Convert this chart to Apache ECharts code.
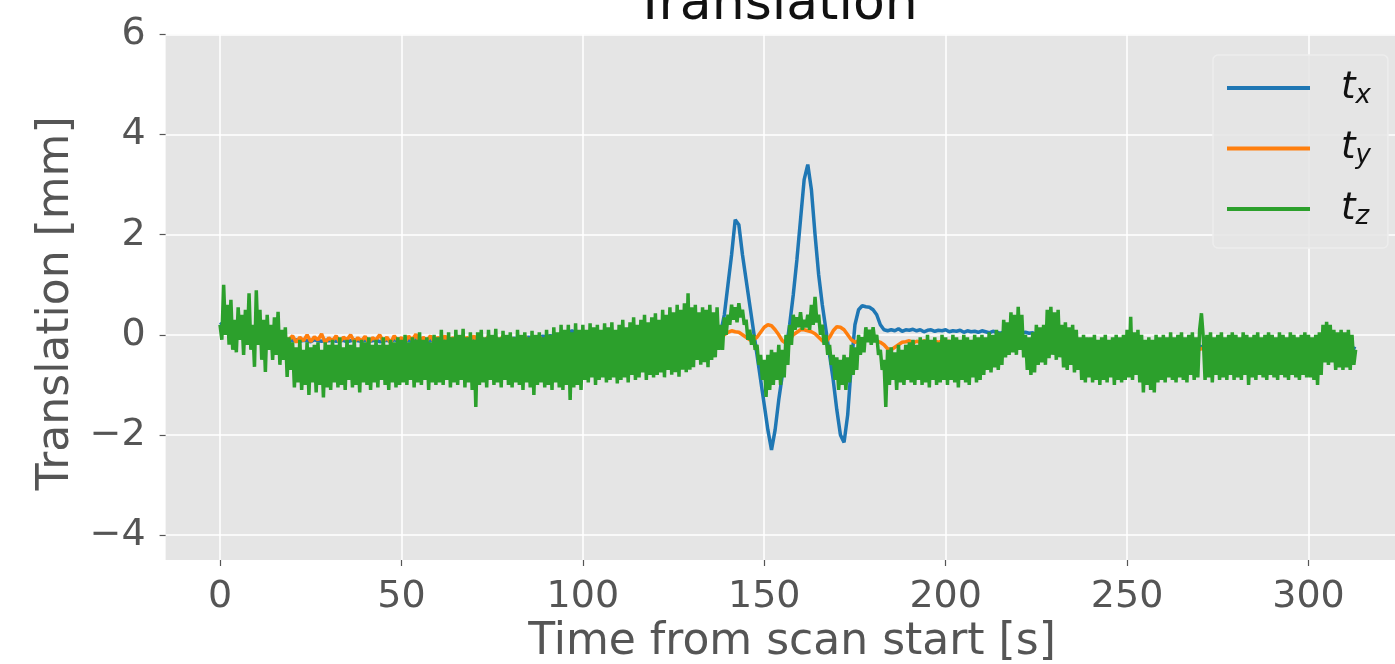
<!DOCTYPE html>
<html>
<head>
<meta charset="utf-8">
<script src="https://cdn.jsdelivr.net/npm/echarts@6/dist/echarts.min.js"></script>
<style>
html,body{margin:0;padding:0;background:#ffffff;}
#chart{width:1395px;height:664px;}
</style>
</head>
<body>
<div id="chart"></div>
<script>
// ---- data ----
const seriesNames = ['tx', 'ty', 'tz'];
const seriesSubs = ['x', 'y', 'z'];
const seriesColors = ['#1f77b4', '#ff7f0e', '#2ca02c'];

// sample spacing in seconds
const stepTz = 0.5;
const stepTxy = 1;

// t_z, one value every 0.5 s from 0 s
const tzValues = [
  0.2,-0.1,1.0,0.0,0.6,-0.2,0.7,-0.3,0.3,-0.35,0.55,-0.1,0.4,-0.4,0.5,-0.2,0.83,-0.3,0.2,-0.64,
  0.89,-0.2,0.5,-0.5,0.3,-0.74,0.4,-0.3,0.2,-0.5,0.35,-0.4,0.46,-0.6,0.1,-0.5,0.15,-0.84,-0.05,-0.7,
  -0.15,-1.05,-0.25,-0.95,-0.1,-1.1,-0.3,-1.0,-0.15,-1.2,-0.25,-0.95,-0.2,-1.15,-0.15,-1.0,-0.3,-1.25,-0.15,-1.05,
  -0.2,-1.1,-0.1,-0.95,-0.2,-1.05,-0.05,-1.0,-0.25,-1.1,-0.1,-0.9,-0.2,-1.05,-0.1,-1.0,-0.25,-1.15,-0.1,-0.95,
  -0.15,-1.0,-0.05,-1.1,-0.2,-0.95,-0.1,-1.05,-0.2,-0.9,-0.05,-1.0,-0.2,-1.1,-0.1,-0.95,-0.15,-1.05,-0.05,-1.0,
  -0.1,-0.95,0.0,-1.0,-0.15,-0.9,-0.05,-1.05,-0.1,-0.95,0.05,-1.0,-0.1,-0.9,-0.05,-1.1,-0.15,-0.95,0.0,-1.0,
  -0.05,-0.95,0.1,-1.0,-0.1,-0.9,0.05,-1.05,-0.05,-0.95,0.1,-1.0,0.0,-0.9,0.12,-1.05,-0.05,-0.95,0.05,-1.1,
  -0.1,-1.44,0.05,-1.0,0.1,-0.95,-0.05,-1.05,0.1,-0.9,0.0,-1.0,0.12,-0.95,-0.05,-1.05,0.08,-0.9,0.0,-1.0,
  0.05,-1.05,-0.05,-0.95,0.1,-1.0,0.0,-1.1,0.05,-0.95,-0.05,-1.05,0.08,-1.2,0.0,-1.0,0.05,-0.95,-0.05,-1.05,
  0.1,-1.0,0.0,-1.1,0.15,-0.95,0.05,-1.05,0.2,-1.1,0.1,-1.0,0.2,-1.3,0.05,-1.05,0.23,-1.0,0.1,-1.1,
  0.2,-0.9,0.1,-0.95,0.23,-0.85,0.15,-1.0,0.2,-0.9,0.1,-0.85,0.23,-0.95,0.15,-0.9,0.25,-0.85,0.1,-0.97,
  0.2,-0.9,0.3,-0.85,0.15,-0.95,0.25,-0.8,0.35,-0.9,0.2,-0.85,0.3,-0.75,0.4,-0.9,0.25,-0.8,0.35,-0.85,
  0.43,-0.8,0.3,-0.75,0.5,-0.85,0.4,-0.7,0.55,-0.8,0.45,-0.75,0.6,-0.84,0.5,-0.7,0.63,-0.75,0.83,-0.7,
  0.55,-0.65,0.6,-0.5,0.45,-0.6,0.55,-0.55,0.5,-0.65,0.6,-0.5,0.45,-0.45,0.55,-0.3,0.2,-0.3,0.35,0.0,
  0.4,0.2,0.6,0.3,0.55,0.25,0.63,0.35,0.5,0.2,0.3,-0.1,0.1,-0.2,0.0,-0.3,-0.2,-0.6,-0.4,-0.9,
  -0.5,-1.24,-0.4,-1.1,-0.3,-1.0,-0.35,-0.9,-0.2,-1.0,-0.3,-0.85,0.0,-0.6,0.2,-0.2,0.4,0.1,0.35,0.15,
  0.45,0.1,0.3,0.15,0.4,0.1,0.6,0.2,0.76,0.25,0.4,0.0,0.2,-0.2,0.0,-0.4,-0.2,-0.6,-0.4,-0.9,
  -0.45,-1.1,-0.5,-1.0,-0.4,-1.1,-0.45,-0.95,-0.2,-0.8,-0.25,-0.7,0.0,-0.4,-0.05,-0.35,0.15,-0.15,0.1,-0.2,
  0.15,-0.15,0.0,-0.4,-0.3,-0.7,-0.5,-1.44,-0.3,-1.0,-0.25,-0.9,-0.35,-1.1,-0.2,-0.95,-0.3,-1.0,-0.2,-0.9,
  -0.15,-0.95,-0.1,-1.0,-0.2,-0.9,-0.05,-1.0,-0.1,-0.95,0.0,-1.05,-0.1,-0.9,-0.05,-1.0,-0.15,-0.95,0.0,-0.9,
  -0.05,-1.0,-0.1,-0.9,0.0,-0.95,-0.05,-1.05,-0.1,-0.9,0.0,-0.95,-0.05,-1.0,-0.1,-0.85,0.0,-0.95,-0.05,-0.9,
  0.0,-0.8,-0.05,-0.7,0.05,-0.75,0.0,-0.65,0.1,-0.7,0.05,-0.6,0.3,-0.45,0.25,-0.4,0.45,-0.35,0.4,-0.4,
  0.56,-0.3,0.4,-0.45,0.0,-0.7,-0.05,-0.8,0.05,-0.75,0.2,-0.6,0.15,-0.55,0.2,-0.6,0.5,-0.47,0.56,-0.4,
  0.45,-0.5,0.5,-0.45,0.2,-0.65,0.25,-0.7,0.15,-0.6,0.2,-0.75,0.1,-0.7,-0.05,-0.9,0.0,-0.95,-0.05,-0.85,
  -0.05,-0.95,0.0,-0.9,-0.1,-1.0,-0.05,-0.9,0.0,-0.95,-0.1,-0.85,-0.05,-1.0,0.0,-0.9,-0.05,-0.95,0.0,-0.9,
  0.1,-0.85,0.36,-0.9,0.05,-0.8,0.1,-0.95,0.0,-1.15,-0.1,-1.0,-0.05,-1.1,-0.1,-1.15,0.0,-0.95,-0.05,-0.9,
  0.0,-0.95,-0.05,-0.85,0.05,-0.9,-0.05,-0.95,0.0,-0.85,0.05,-0.9,-0.05,-0.95,0.0,-0.8,0.05,-0.9,-0.05,-0.85,
  0.1,0.43,-0.05,-0.9,0.0,-0.85,0.05,-0.95,-0.05,-0.8,0.0,-0.9,0.05,-0.85,-0.05,-0.9,0.0,-0.8,0.05,-0.9,
  0.0,-0.85,-0.05,-0.9,0.05,-0.8,0.0,-1.0,-0.05,-0.85,0.0,-0.9,0.05,-0.8,-0.05,-0.85,0.0,-0.9,0.05,-0.8,
  0.0,-0.85,-0.05,-0.9,0.05,-0.8,0.0,-0.85,-0.05,-0.9,0.05,-0.8,0.0,-0.85,-0.05,-0.9,0.0,-0.8,0.05,-0.85,
  0.0,-0.85,-0.05,-0.9,0.0,-1.0,0.05,-0.8,0.2,-0.55,0.26,-0.6,0.2,-0.55,0.1,-0.7,0.05,-0.65,0.1,-0.7,
  0.05,-0.65,0.1,-0.7,0.0,-0.6,-0.3
];

// t_x, one value every 1 s from 0 s
const txValues = [
  0.2,0.25,0.2,0.15,0.15,0.1,0.1,0.05,0.05,0.0,0.0,0.0,-0.05,-0.05,-0.05,-0.1,-0.1,-0.1,-0.1,-0.1,
  -0.12,-0.1,-0.13,-0.11,-0.12,-0.14,-0.1,-0.12,-0.13,-0.11,-0.12,-0.1,-0.13,-0.12,-0.11,-0.14,-0.12,-0.1,-0.12,-0.13,
  -0.11,-0.13,-0.12,-0.1,-0.14,-0.12,-0.11,-0.13,-0.1,-0.12,-0.14,-0.11,-0.12,-0.13,-0.1,-0.12,-0.11,-0.14,-0.12,-0.1,
  -0.1,-0.09,-0.11,-0.1,-0.08,-0.12,-0.1,-0.09,-0.11,-0.1,-0.12,-0.09,-0.1,-0.11,-0.08,-0.1,-0.09,-0.11,-0.1,-0.08,
  -0.08,-0.07,-0.08,-0.06,-0.07,-0.05,-0.06,-0.04,-0.05,-0.03,-0.04,-0.02,-0.03,0.0,-0.01,0.02,0.05,0.08,0.03,0.02,
  0.0,0.02,-0.01,0.01,0.0,-0.02,0.01,0.0,0.02,-0.01,0.0,0.01,-0.02,0.0,0.01,0.0,-0.01,0.02,0.0,0.01,
  0.0,0.02,0.01,0.0,0.02,0.01,0.03,0.0,0.02,0.01,0.03,0.02,0.0,0.02,0.01,0.03,0.02,0.04,
  0.05,0.4,1.0,1.6,2.3,2.2,1.6,1.1,0.6,0.1,-0.4,-0.9,-1.4,-1.9,-2.3,-1.9,-1.3,-0.8,-0.3,0.2,
  0.8,1.5,2.3,3.1,3.4,2.9,2.0,1.2,0.6,0.1,-0.4,-0.9,-1.5,-2.0,-2.15,-1.6,-0.6,0.2,0.5,0.58,
  0.56,0.55,0.5,0.4,0.2,0.1,0.08,
  0.1,0.08,0.12,0.07,0.1,0.09,0.11,0.08,0.1,0.06,0.09,0.1,0.07,0.09,0.08,0.1,0.06,0.08,0.07,0.09,
  0.05,0.08,0.06,0.07,0.05,0.08,0.06,0.04,0.07,0.05,0.03,
  0.05,0.06,0.04,0.05,0.06,0.04,0.05,0.03,0.04,0.0,
  -0.08,-0.12,-0.15,-0.17,-0.18,-0.2,-0.19,-0.21,-0.2,-0.22,-0.2,-0.21,-0.19,-0.22,-0.2,-0.21,-0.23,-0.2,-0.22,-0.21,
  -0.22,-0.2,-0.23,-0.21,-0.22,-0.24,-0.21,-0.23,-0.22,-0.2,-0.23,-0.22,-0.24,-0.21,-0.23,-0.22,-0.25,-0.22,-0.23,-0.24,
  -0.23,-0.25,-0.22,-0.24,-0.23,-0.25,-0.24,-0.22,-0.25,-0.23,-0.24,-0.26,-0.23,-0.25,-0.24,-0.22,-0.25,-0.24,-0.26,-0.23,
  -0.25,-0.24,-0.26,-0.23,-0.25,-0.27,-0.24,-0.26,-0.25,-0.23,-0.26,-0.25,-0.27,-0.24,-0.26,-0.25,-0.27,-0.26,-0.24,-0.26,
  -0.25,-0.27,-0.26,-0.28,-0.26,-0.27,-0.25,-0.28
];

// t_y, one value every 1 s from 0 s
const tyValues = [
  0.15,0.15,0.1,0.1,0.05,0.05,0.0,0.0,-0.05,-0.05,-0.05,-0.1,-0.1,-0.1,-0.1,-0.08,-0.1,-0.12,-0.08,-0.1,
  -0.02,-0.15,-0.05,-0.12,0.0,-0.14,-0.04,-0.1,0.02,-0.16,-0.06,-0.12,-0.02,-0.15,-0.05,-0.1,0.0,-0.14,-0.06,-0.12,
  -0.03,-0.15,-0.06,-0.1,0.0,-0.13,-0.05,-0.16,-0.02,-0.11,-0.06,-0.14,-0.03,-0.1,0.01,-0.15,-0.05,-0.12,-0.02,-0.14,
  -0.05,-0.13,-0.02,-0.15,-0.06,-0.1,-0.03,-0.14,-0.05,-0.11,-0.02,-0.15,-0.06,-0.12,-0.03,-0.1,-0.05,-0.14,-0.02,-0.12,
  -0.04,-0.15,-0.06,-0.11,-0.02,-0.14,-0.05,-0.12,-0.03,-0.16,-0.06,-0.1,-0.04,-0.14,-0.02,-0.12,-0.05,-0.15,-0.08,-0.13,
  -0.1,-0.16,-0.12,-0.14,-0.1,-0.17,-0.12,-0.13,-0.1,-0.16,-0.13,-0.11,-0.15,-0.12,-0.1,-0.16,-0.12,-0.14,-0.1,-0.15,
  -0.12,-0.14,-0.1,-0.15,-0.12,-0.13,-0.1,-0.14,-0.11,-0.12,-0.1,-0.13,-0.11,-0.1,-0.12,-0.09,-0.1,-0.08,
  -0.05,0.0,0.05,0.08,0.06,0.05,0.0,-0.05,-0.1,-0.1,-0.05,0.05,0.15,0.2,0.18,0.1,0.0,-0.12,-0.17,-0.1,
  0.0,0.05,0.1,0.1,0.08,0.06,0.02,-0.05,-0.12,-0.15,-0.05,0.08,0.16,0.15,0.1,0.0,-0.1,-0.15,-0.12,-0.1,
  -0.1,-0.08,-0.1,-0.12,-0.15,-0.2,-0.28,-0.3,-0.25,-0.2,-0.15,
  -0.14,-0.12,-0.16,-0.13,-0.15,-0.12,-0.14,-0.16,-0.13,-0.15,-0.12,-0.14,-0.13,-0.16,-0.12,-0.15,-0.14,-0.13,-0.16,-0.12,
  -0.15,-0.14,-0.17,-0.13,-0.16,-0.15,-0.18,
  -0.18,-0.2,-0.17,-0.21,-0.19,-0.2,-0.22,-0.19,-0.21,-0.2,
  -0.22,-0.2,-0.23,-0.21,-0.24,-0.22,-0.2,-0.23,-0.25,-0.22,-0.24,-0.21,-0.23,-0.25,-0.22,-0.24,-0.23,-0.21,-0.25,-0.23,
  -0.24,-0.26,-0.23,-0.25,-0.27,-0.24,-0.26,-0.25,-0.23,-0.27,-0.25,-0.24,-0.26,-0.28,-0.25,-0.27,-0.24,-0.26,-0.28,-0.25,
  -0.27,-0.25,-0.28,-0.26,-0.29,-0.27,-0.25,-0.28,-0.3,-0.27,-0.29,-0.26,-0.28,-0.3,-0.27,-0.29,-0.31,-0.28,-0.3,-0.27,
  -0.29,-0.31,-0.28,-0.3,-0.32,-0.29,-0.31,-0.33,-0.3,-0.32,-0.29,-0.31,-0.33,-0.3,-0.32,-0.34,-0.31,-0.33,-0.3,-0.32,
  -0.34,-0.32,-0.35,-0.37,-0.34,-0.36,-0.33,-0.35
];

const xTickValues = [0, 50, 100, 150, 200, 250, 300];
const yTickValues = [-4, -2, 0, 2, 4, 6];

const titleText = 'Translation';
const xAxisTitle = 'Time from scan start [s]';
const yAxisTitle = 'Translation [mm]';

// ---- chart ----
const FONT = 'DejaVu Sans';
function toPairs(values, step) {
  return values.map(function (v, i) { return [i * step, v]; });
}
const seriesValues = [txValues, tyValues, tzValues];
const seriesSteps = [stepTxy, stepTxy, stepTz];

const chart = echarts.init(document.getElementById('chart'), null, { renderer: 'canvas' });

const option = {
  animation: false,
  backgroundColor: '#ffffff',
  title: {
    text: titleText,
    left: 771,
    top: -26,
    textAlign: 'center',
    textStyle: { fontFamily: FONT, fontSize: 52, fontWeight: 'normal', color: '#111111', lineHeight: 52 }
  },
  grid: {
    show: true,
    left: 165.6,
    right: -23.4,
    top: 34.5,
    bottom: 104,
    backgroundColor: '#E5E5E5',
    borderWidth: 0,
    containLabel: false,
    outerBoundsMode: 'none'
  },
  legend: {
    orient: 'vertical',
    left: 1213,
    top: 55,
    icon: 'rect',
    itemWidth: 83,
    itemHeight: 4,
    itemGap: 18.5,
    padding: [12, 17, 18, 14],
    backgroundColor: 'rgba(229,229,229,0.85)',
    borderColor: '#ededed',
    borderWidth: 1.5,
    borderRadius: 5,
    data: seriesNames,
    formatter: function (name) {
      const idx = seriesNames.indexOf(name);
      return '{t|t}{s|' + seriesSubs[idx] + '}';
    },
    textStyle: {
      rich: {
        t: { fontFamily: FONT, fontStyle: 'italic', fontSize: 37, color: '#111111', lineHeight: 40, padding: [0, 0, 0, 26] },
        s: { fontFamily: FONT, fontStyle: 'italic', fontSize: 26, color: '#111111', lineHeight: 24, padding: [16, 0, 0, 0] }
      }
    }
  },
  xAxis: {
    type: 'value',
    min: -15,
    max: 330.3,
    minInterval: 50,
    maxInterval: 50,
    name: xAxisTitle,
    nameLocation: 'middle',
    nameGap: 60,
    nameTextStyle: { fontFamily: FONT, fontSize: 44, color: '#555555' },
    axisLine: { show: false, onZero: false },
    axisTick: { show: true, length: 6, customValues: xTickValues, lineStyle: { color: '#555555', width: 1.2 } },
    axisLabel: {
      customValues: xTickValues,
      fontFamily: FONT, fontSize: 38, color: '#555555', margin: 18
    },
    splitLine: { show: true, lineStyle: { color: '#ffffff', width: 1.5 } }
  },
  yAxis: {
    type: 'value',
    min: -4.5,
    max: 6,
    minInterval: 2,
    maxInterval: 2,
    name: yAxisTitle,
    nameLocation: 'middle',
    nameRotate: 90,
    nameGap: 84,
    nameTextStyle: { fontFamily: FONT, fontSize: 44, color: '#555555', padding: [0, 12, 0, 0] },
    axisLine: { show: false, onZero: false },
    axisTick: { show: true, length: 6, customValues: yTickValues, lineStyle: { color: '#555555', width: 1.2 } },
    axisLabel: {
      customValues: yTickValues,
      fontFamily: FONT, fontSize: 38, color: '#555555', margin: 20,
      formatter: function (v) { return v < 0 ? '\u2212' + Math.abs(v) : String(v); }
    },
    splitLine: { show: true, lineStyle: { color: '#ffffff', width: 1.5 } }
  },
  series: seriesNames.map(function (name, i) {
    return {
      name: name,
      type: 'line',
      data: toPairs(seriesValues[i], seriesSteps[i]),
      showSymbol: false,
      symbol: 'none',
      sampling: 'none',
      color: seriesColors[i],
      lineStyle: { color: seriesColors[i], width: 3.5 },
      z: 2 + i
    };
  })
};

chart.setOption(option);
</script>
</body>
</html>
